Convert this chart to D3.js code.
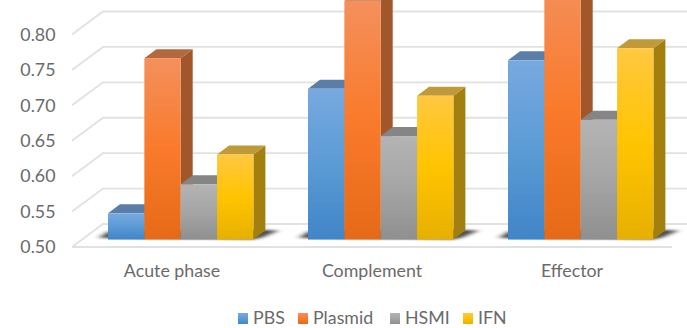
<!DOCTYPE html>
<html>
<head>
<meta charset="utf-8">
<script src="https://cdn.jsdelivr.net/npm/d3@7"></script>
<style>
  html, body { margin: 0; padding: 0; background: #fff; }
  svg { display: block; }
  text { font-family: Lato, "Open Sans", sans-serif; fill: #6a6a6a; }
</style>
</head>
<body>
<div id="chart"></div>
<script>
const categories = ["Acute phase", "Complement", "Effector"];
const seriesNames = ["PBS", "Plasmid", "HSMI", "IFN"];
const pbsValues = [0.537, 0.713, 0.753];
const plasmidValues = [0.756, 0.837, 0.87];
const hsmiValues = [0.578, 0.646, 0.669];
const ifnValues = [0.62, 0.703, 0.77];
const seriesValues = [pbsValues, plasmidValues, hsmiValues, ifnValues];
const yTicks = [0.5, 0.55, 0.6, 0.65, 0.7, 0.75, 0.8];

// Face gradients per series: top, middle, bottom; plus the flat top and side shades.
const palette = [
  { stops: ["#78a9df", "#5b9bd5", "#4085c8"], top: "#5a7ea8", side: "#4a6f96" },
  { stops: ["#f4905c", "#f97a2b", "#e56a17"], top: "#b5673d", side: "#a2572a" },
  { stops: ["#b4b4b4", "#a5a5a5", "#8f8f8f"], top: "#858585", side: "#777777" },
  { stops: ["#ffc840", "#ffc400", "#e6b000"], top: "#c09a38", side: "#a37f10" }
];

const W = 687, H = 328;
const wallDx = 31, wallDy = -23;      // offset from the front edge of the floor to the back wall
const barDx = 12, barDy = -9;         // depth of each box

const svg = d3.select("#chart").append("svg").attr("width", W).attr("height", H);
const defs = svg.append("defs");

// Value scale along the front plane of the floor; the bars stand 7.5px further back.
const y = d3.scaleLinear().domain([0.5, 0.8]).range([247, 34.5]);
const barBaseShift = -7.5;

// One band per category, four boxes per band.
const x0 = d3.scaleBand().domain(categories).range([72, 672]);
const x1 = d3.scaleBand().domain(d3.range(4)).range([0, 145.4]);
const groupStart = c => x0(c) + 36;

const grid = svg.append("g").attr("fill", "none").attr("stroke", "#e1e1e1").attr("stroke-width", 1.8);

yTicks.forEach(t => {
  const yF = y(t);
  grid.append("path").attr("d", d3.line()([
    [72, yF],
    [72 + wallDx, yF + wallDy],
    [W + 2, yF + wallDy]
  ]));
});
grid.append("line").attr("x1", 72).attr("x2", 672).attr("y1", y(0.5)).attr("y2", y(0.5));

// Tick labels
svg.append("g").selectAll("text").data(yTicks).join("text")
  .attr("x", 55.5).attr("y", d => y(d))
  .attr("dy", "0.35em")
  .attr("text-anchor", "end")
  .attr("font-size", 17.8)
  .text(d => d.toFixed(2));

// Soft floor shadow beneath each group of boxes
const blur = defs.append("filter").attr("id", "floorShadow")
  .attr("x", "-30%").attr("y", "-100%").attr("width", "160%").attr("height", "300%");
blur.append("feGaussianBlur").attr("stdDeviation", "3.5 1.2");

const baseY = y(0.5) + barBaseShift;
categories.forEach(c => {
  const gx = groupStart(c);
  svg.append("path")
    .attr("d", d3.line()([
      [gx - 9, baseY - 1.5], [gx + 145.4, baseY],
      [gx + 145.4 + 9, baseY - 2],
      [gx + 145.4 + 25, baseY - 9],
      [gx + 145.4, baseY - 10],
      [gx, baseY - 8]
    ]))
    .attr("fill", "#2e2e2e").attr("opacity", 0.85)
    .attr("filter", "url(#floorShadow)");
});

palette.forEach((p, i) => {
  const g = defs.append("linearGradient").attr("id", "face" + i)
    .attr("x1", 0).attr("x2", 0).attr("y1", 0).attr("y2", 1);
  g.append("stop").attr("offset", "0%").attr("stop-color", p.stops[0]);
  g.append("stop").attr("offset", "50%").attr("stop-color", p.stops[1]);
  g.append("stop").attr("offset", "100%").attr("stop-color", p.stops[2]);
});

// Boxes, drawn left to right within a group so each one covers its neighbour's side
categories.forEach((c, ci) => {
  const gx = groupStart(c);
  const g = svg.append("g");

  d3.range(4).forEach(si => {
    const v = seriesValues[si][ci];
    const bx = gx + x1(si), bw = x1.bandwidth();
    const top = y(v) + barBaseShift;
    const p = palette[si];

    g.append("path").attr("fill", p.side).attr("d", d3.line()([
      [bx + bw, top], [bx + bw + barDx, top + barDy],
      [bx + bw + barDx, baseY + barDy], [bx + bw, baseY]
    ]));
    g.append("path").attr("fill", p.top).attr("d", d3.line()([
      [bx, top], [bx + barDx, top + barDy],
      [bx + bw + barDx, top + barDy], [bx + bw, top]
    ]));
    g.append("rect").attr("x", bx).attr("y", top).attr("width", bw).attr("height", baseY - top)
      .attr("fill", `url(#face${si})`);
  });
});

// Category labels
svg.append("g").selectAll("text").data(categories).join("text")
  .attr("x", c => groupStart(c) + 64).attr("y", 277)
  .attr("text-anchor", "middle").attr("font-size", 17.8)
  .text(d => d);

// Legend
const legendX = [238, 298, 390, 463];
const legend = svg.append("g");
seriesNames.forEach((name, i) => {
  legend.append("rect").attr("x", legendX[i]).attr("y", 313).attr("width", 10).attr("height", 11)
    .attr("fill", `url(#face${i})`);
  legend.append("text").attr("x", legendX[i] + 15).attr("y", 324)
    .attr("font-size", 17.8).text(name);
});
</script>
</body>
</html>
